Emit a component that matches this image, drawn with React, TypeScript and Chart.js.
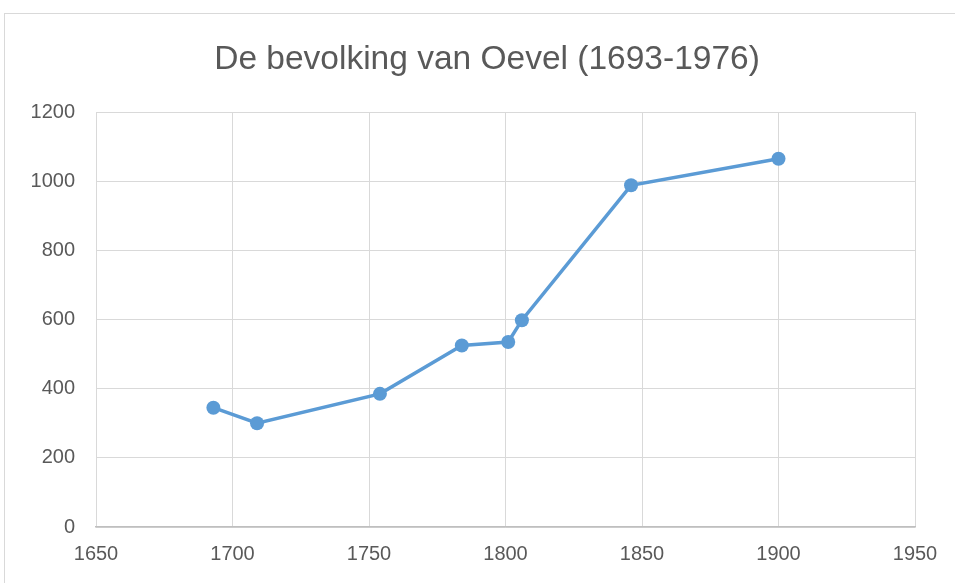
import React, { useEffect, useRef } from "react";
import { Chart, registerables } from "chart.js";

Chart.register(...registerables);

const years = [1693, 1709, 1754, 1784, 1801, 1806, 1846, 1900];
const population = [345, 300, 385, 525, 535, 598, 988, 1065];
const titleText = "De bevolking van Oevel (1693-1976)";

const frame = {
  id: "frame",
  beforeDraw(chart: any) {
    const ctx = chart.ctx;
    ctx.save();
    ctx.fillStyle = "#ffffff";
    ctx.fillRect(0, 0, chart.width, chart.height);
    ctx.strokeStyle = "#d9d9d9";
    ctx.lineWidth = 1;
    ctx.strokeRect(4.5, 13.5, 1000, 1000);
    ctx.fillStyle = "#595959";
    ctx.font = '33.5px "Liberation Sans", Arial, sans-serif';
    ctx.textAlign = "center";
    ctx.textBaseline = "middle";
    ctx.fillText(titleText, 487, 60);
    ctx.restore();
  },
};

export default function App() {
  const ref = useRef<HTMLCanvasElement>(null);
  useEffect(() => {
    if (!ref.current) return;
    const chart = new Chart(ref.current, {
      type: "scatter",
      data: {
        datasets: [
          {
            data: years.map((y, i) => ({ x: y, y: population[i] })),
            showLine: true,
            borderColor: "#5b9bd5",
            backgroundColor: "#5b9bd5",
            borderWidth: 3.5,
            pointRadius: 7,
            pointHoverRadius: 7,
            pointBorderWidth: 0,
          },
        ],
      },
      options: {
        responsive: false,
        animation: false,
        layout: { padding: { top: 112, right: 40, left: 0, bottom: 0 } },
        plugins: { legend: { display: false }, tooltip: { enabled: false }, title: { display: false } },
        scales: {
          x: {
            type: "linear",
            min: 1650,
            max: 1950,
            afterFit: (s: any) => { s.height = 56; },
            ticks: {
              stepSize: 50,
              color: "#595959",
              padding: 15,
              callback: (v: any) => String(v),
              font: { family: '"Liberation Sans", Arial, sans-serif', size: 20 },
            },
            grid: { color: "#d9d9d9", lineWidth: 1, drawTicks: false },
            border: { color: "#bfbfbf", width: 1.5 },
          },
          y: {
            min: 0,
            max: 1200,
            afterFit: (s: any) => { s.width = 96; },
            ticks: {
              stepSize: 200,
              color: "#595959",
              padding: 21,
              callback: (v: any) => String(v),
              font: { family: '"Liberation Sans", Arial, sans-serif', size: 20 },
            },
            grid: { color: "#d9d9d9", lineWidth: 1, drawTicks: false },
            border: { display: false },
          },
        },
      },
      plugins: [frame],
    });
    return () => chart.destroy();
  }, []);
  return (
    <div style={{ position: "fixed", left: 0, top: 0, width: 955, height: 583 }}>
      <canvas ref={ref} width={955} height={583} style={{ display: "block" }} />
    </div>
  );
}
